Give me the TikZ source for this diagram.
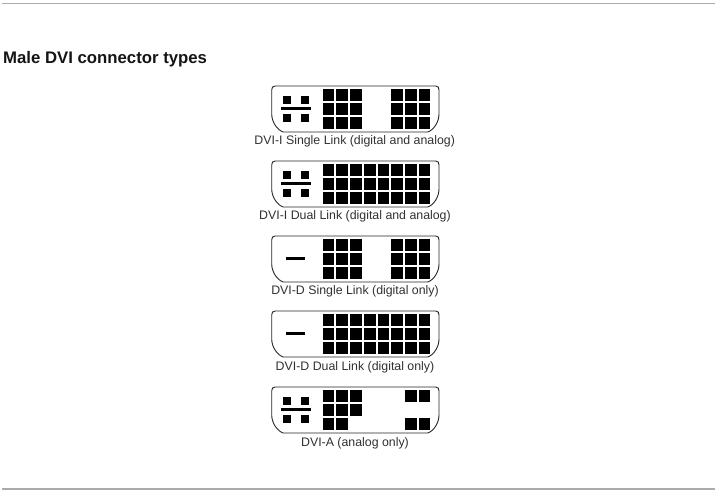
\documentclass[tikz,border=0pt]{standalone}
\usepackage{fontspec}
\setmainfont{Liberation Sans}
\definecolor{ruleline}{HTML}{ABABAB}
\definecolor{labeltext}{HTML}{303030}
\definecolor{titletext}{HTML}{141414}
% shell of one connector, origin at its top left corner
\newcommand{\dvishell}[1]{
  \draw[shell, shift={(271.7,#1)}] (3.5,0) -- (164,0) .. controls (166.5,0) and (167.3,1.5) .. (167.3,4)
    -- (167.3,28) .. controls (167.3,36) and (162,44) .. (156,46) -- (11.5,46)
    .. controls (5.5,44) and (0,36) .. (0,28) -- (0,4) .. controls (0,1.5) and (1,0) .. (3.5,0) -- cycle;
}
% column, row list of pins
\newcommand{\dvipins}[2]{
  \foreach \c/\r in {#2}
    \fill[shift={(322.7,#1)}] ({(\c-1)*13.7},{3.3+(\r-1)*14}) rectangle ++(11.7,11.7);
}
\newcommand{\dvianalog}[1]{
  \foreach \x in {283,300.7}
    \foreach \y in {9.7,27.5}
      \fill[shift={(0,#1)}] (\x,\y) rectangle ++(8.3,8.3);
  \fill[shift={(0,#1)}] (281,21) rectangle (310.7,23.6);
}
\newcommand{\dvidash}[1]{
  \fill[shift={(0,#1)}] (286,21) rectangle (305,23.6);
}
\begin{document}
\begin{tikzpicture}[x=1pt, y=-1pt,
        shell/.style={draw=black!85, line width=0.9pt, fill=white},
        conlabel/.style={inner sep=0pt, text=labeltext, font=\fontsize{12.35}{14}\selectfont},
        rulebar/.style={draw=ruleline, line width=1.1pt}
    ]
      \useasboundingbox (0,0) rectangle (715,495);
      \node[inner sep=0pt, anchor=west, text=titletext, font=\fontsize{16.75}{20}\selectfont\bfseries] (title) at (3,59) {Male DVI connector types};
      \coordinate (toprulea) at (2,3.5);
      \coordinate (topruleb) at (715,3.5);
      \draw[rulebar] (toprulea) -- (topruleb);
      \coordinate (botrulea) at (2,489);
      \coordinate (botruleb) at (715,489);
      \draw[rulebar] (botrulea) -- (botruleb);
      % DVI-I single
      \dvishell{86}
      \dvianalog{86}
      \dvipins{86}{1/1,2/1,3/1,1/2,2/2,3/2,1/3,2/3,3/3,6/1,7/1,8/1,6/2,7/2,8/2,6/3,7/3,8/3}
      \node[conlabel] (isingle) at (354.7,141) {DVI-I Single Link (digital and analog)};
      % DVI-I dual
      \dvishell{161}
      \dvianalog{161}
      \dvipins{161}{1/1,2/1,3/1,4/1,5/1,6/1,7/1,8/1,1/2,2/2,3/2,4/2,5/2,6/2,7/2,8/2,1/3,2/3,3/3,4/3,5/3,6/3,7/3,8/3}
      \node[conlabel] (idual) at (355,216) {DVI-I Dual Link (digital and analog)};
      % DVI-D single
      \dvishell{236}
      \dvidash{236}
      \dvipins{236}{1/1,2/1,3/1,1/2,2/2,3/2,1/3,2/3,3/3,6/1,7/1,8/1,6/2,7/2,8/2,6/3,7/3,8/3}
      \node[conlabel] (dsingle) at (355,291) {DVI-D Single Link (digital only)};
      % DVI-D dual
      \dvishell{311}
      \dvidash{311}
      \dvipins{311}{1/1,2/1,3/1,4/1,5/1,6/1,7/1,8/1,1/2,2/2,3/2,4/2,5/2,6/2,7/2,8/2,1/3,2/3,3/3,4/3,5/3,6/3,7/3,8/3}
      \node[conlabel] (ddual) at (355,367) {DVI-D Dual Link (digital only)};
      % DVI-A
      \dvishell{387}
      \dvianalog{387}
      \dvipins{387}{1/1,2/1,3/1,1/2,2/2,3/2,1/3,2/3,7/1,8/1,7/3,8/3}
      \node[conlabel] (analog) at (355,443) {DVI-A (analog only)};
    \end{tikzpicture}
\end{document}
